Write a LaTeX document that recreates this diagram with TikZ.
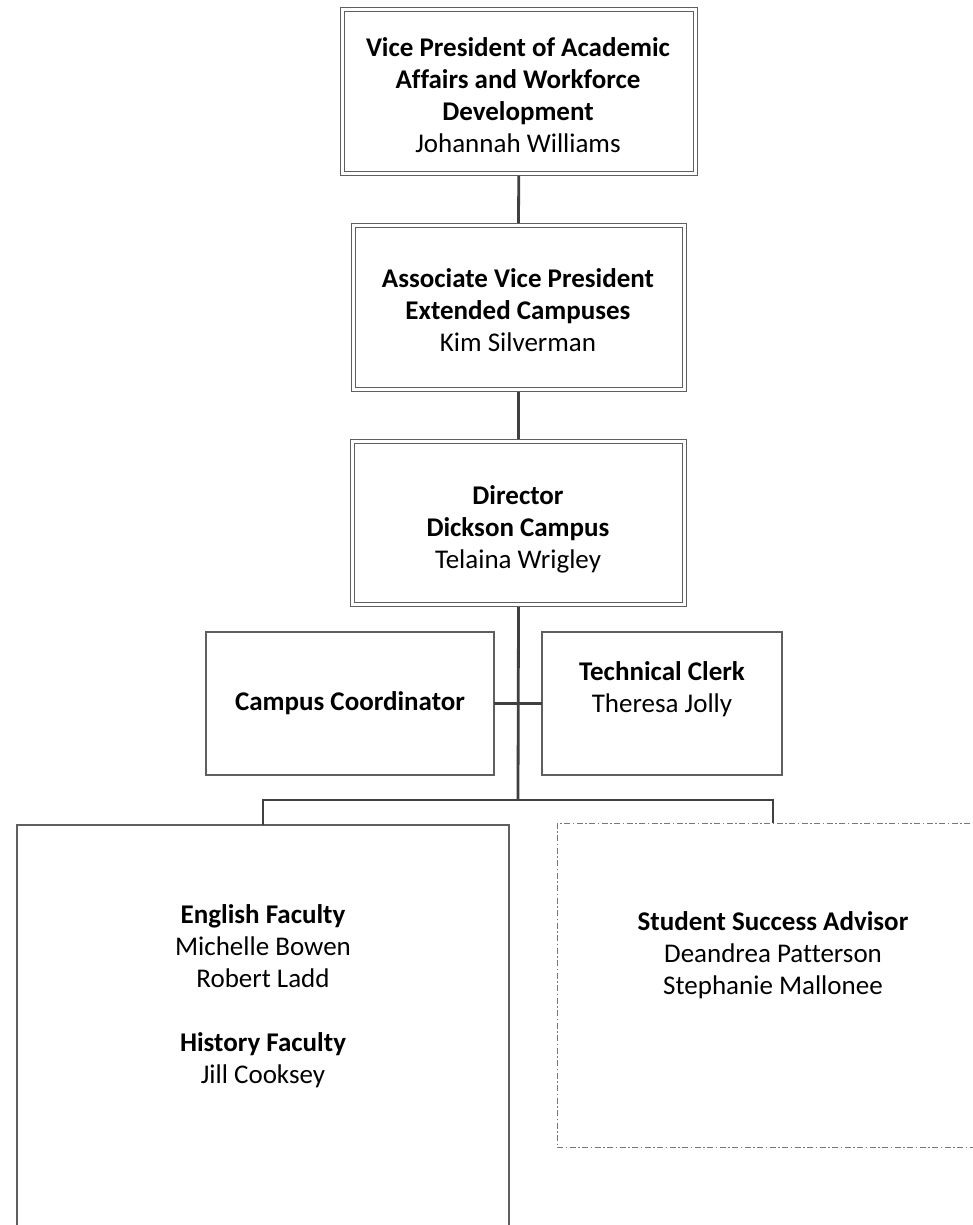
\documentclass[tikz,border=0pt]{standalone}
\usepackage{fontspec}
\setmainfont[Ligatures=NoCommon]{Carlito}
\definecolor{conn}{RGB}{64,64,64}
\definecolor{bord}{RGB}{95,95,95}
\definecolor{dashc}{RGB}{120,120,120}
\begin{document}
\begin{tikzpicture}[x=1pt,y=-1pt,
  box/.style={draw=bord,line width=1.2pt,rectangle,inner sep=0pt,outer sep=0pt,fill=none},
  dbox/.style={draw=bord,line width=1pt,double=white,double distance=3pt,rectangle,inner sep=0pt,outer sep=2.5pt},
  dashbox/.style={draw=dashc,line width=1pt,dash pattern=on 6pt off 2.5pt on 1.5pt off 2.5pt,rectangle,inner sep=0pt,outer sep=0pt},
  txt/.style={align=center,inner sep=0pt,font=\fontsize{27}{32}\selectfont},
  link/.style={draw=conn,line width=2.8pt}]
\useasboundingbox (0,0) rectangle (973,1225);
\clip (0,0) rectangle (973,1225);
\fill[white] (0,0) rectangle (973,1225);
% boxes
\node[dbox,minimum width=353.5pt,minimum height=163.5pt] (vp) at (518.75,91.75) {};
\node[dbox,minimum width=331pt,minimum height=164pt] (avp) at (518.5,307.5) {};
\node[dbox,minimum width=332pt,minimum height=163pt] (dir) at (518.5,523) {};
\node[box,minimum width=288pt,minimum height=143pt] (cc) at (350,703.5) {};
\node[box,minimum width=240pt,minimum height=143pt] (tc) at (662,703.5) {};
\node[box,minimum width=492pt,minimum height=480pt] (eng) at (263,1065) {};
\node[dashbox,minimum width=432pt,minimum height=324pt] (ssa) at (773,985) {};
% texts
\node[txt] (vpt) at (518,95) {\textbf{Vice President of Academic}\\\textbf{Affairs and Workforce}\\\textbf{Development}\\Johannah Williams};
\node[txt] (avpt) at (518,310) {\textbf{Associate Vice President}\\\textbf{Extended Campuses}\\Kim Silverman};
\node[txt] (dirt) at (518,529) {\textbf{Director}\\\textbf{Dickson Campus}\\Telaina Wrigley};
\node[txt] (cct) at (350,703) {\textbf{Campus Coordinator}};
\node[txt] (tct) at (662,689) {\textbf{Technical Clerk}\\Theresa Jolly};
\node[txt] (engt) at (263,996) {\textbf{English Faculty}\\Michelle Bowen\\Robert Ladd\\[32pt]\textbf{History Faculty}\\Jill Cooksey};
\node[txt] (ssat) at (773,955) {\textbf{Student Success Advisor}\\Deandrea Patterson\\Stephanie Mallonee};
% connectors
\coordinate (bus) at (518,800);
\coordinate (busl) at (263,800);
\coordinate (busr) at (773,800);
\draw[link] (vp.south) -- (avp.north);
\draw[link] (avp.south) -- (dir.north);
\draw[link] (dir.south) -- (bus);
\draw[link] (cc.east) -- (tc.west);
\draw[link,line join=miter] (eng.north -| busl) -- (busl) -- (busr) -- (ssa.north -| busr);
\end{tikzpicture}
\end{document}
